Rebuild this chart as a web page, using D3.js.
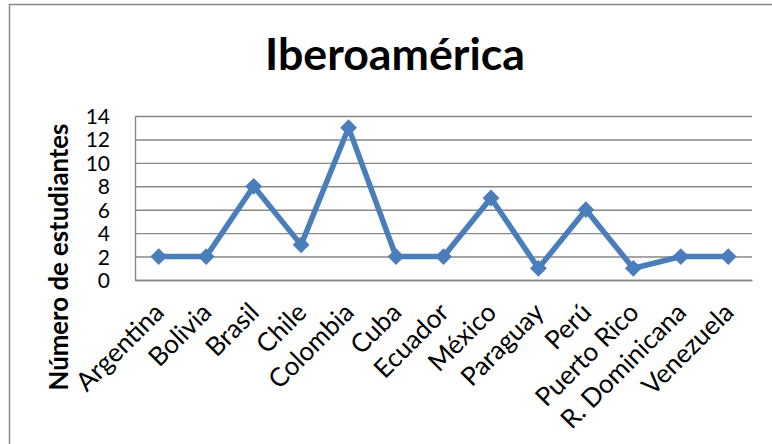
<!DOCTYPE html>
<html><head><meta charset="utf-8">
<script src="https://cdn.jsdelivr.net/npm/d3@7"></script>
<style>html,body{margin:0;padding:0;background:#fff;}svg{display:block;font-family:Lato,"Open Sans",sans-serif;}</style>
</head><body>
<script>
const categories = ["Argentina","Bolivia","Brasil","Chile","Colombia","Cuba","Ecuador","México","Paraguay","Perú","Puerto Rico","R. Dominicana","Venezuela"];
const values = [2,2,8,3,13,2,2,7,1,6,1,2,2];
const yTicks = [0,2,4,6,8,10,12,14];
const titleText = "Iberoamérica";
const yTitle = "Número de estudiantes";

const W = 772, H = 444;
const svg = d3.select("body").append("svg").attr("width", W).attr("height", H);

svg.append("rect").attr("x", 9.5).attr("y", 4.5).attr("width", 820).attr("height", 520)
  .attr("fill", "#fff").attr("stroke", "#8c8c8c").attr("stroke-width", 1.5);

const plot = {left: 135, right: 752, top: 116, bottom: 280};
const x = d3.scaleBand().domain(categories).range([plot.left, plot.right]);
const y = d3.scaleLinear().domain([0, 14]).range([plot.bottom, plot.top]);

const gy = d3.axisLeft(y).tickValues(yTicks).tickSize(-(plot.right - plot.left)).tickFormat("");
const grid = svg.append("g").attr("transform", `translate(${plot.left},0)`).call(gy);
grid.select(".domain").remove();
grid.selectAll("line").attr("stroke", "#878787").attr("stroke-width", 1.4);

const ya = d3.axisLeft(y).tickValues(yTicks).tickSize(0).tickPadding(25);
const yg = svg.append("g").attr("transform", `translate(${plot.left},0)`).call(ya)
  .attr("font-size", 21).attr("font-family", "Lato");
yg.select(".domain").attr("stroke", "#878787").attr("stroke-width", 1.4);
yg.selectAll("text").style("font-size", "21px").attr("fill", "#000").attr("dy", "0.36em");

const xa = d3.axisBottom(x).tickSize(0).tickFormat(d => d);
const xg = svg.append("g").attr("transform", `translate(0,${plot.bottom})`).call(xa)
  .attr("font-size", 26).attr("font-family", "Lato");
xg.select(".domain").attr("stroke", "#878787").attr("stroke-width", 1.4);
xg.selectAll("text").style("font-size", "26px").attr("fill", "#000")
  .attr("text-anchor", "end").attr("dy", null).attr("y", 0)
  .attr("transform", "translate(7,34) rotate(-45)");

const cx = d => x(d) + x.bandwidth() / 2;
const line = d3.line().x((d, i) => cx(categories[i])).y(d => y(d));
svg.append("path").datum(values).attr("d", line).attr("fill", "none")
  .attr("stroke", "#4A7EBB").attr("stroke-width", 5.5).attr("stroke-linejoin", "round");

const sym = d3.symbol().type(d3.symbolDiamond2).size(180);
svg.selectAll("path.m").data(values).join("path").attr("class", "m")
  .attr("d", sym).attr("fill", "#4A7EBB")
  .attr("transform", (d, i) => `translate(${cx(categories[i])},${y(d)})`);

const t = svg.append("text").text(titleText).attr("x", 395).attr("y", 70)
  .attr("text-anchor", "middle").attr("font-weight", "bold").attr("font-size", 40).attr("font-family", "Lato");
const tl = t.node().getComputedTextLength();
t.attr("font-size", 40 * 260 / tl);

const yt = svg.append("text").text(yTitle).attr("transform", "translate(68,257) rotate(-90)")
  .attr("text-anchor", "middle").attr("font-weight", "bold").attr("font-size", 22).attr("font-family", "Lato");
const yl = yt.node().getComputedTextLength();
yt.attr("font-size", 22 * 267 / yl);
</script>
</body></html>
